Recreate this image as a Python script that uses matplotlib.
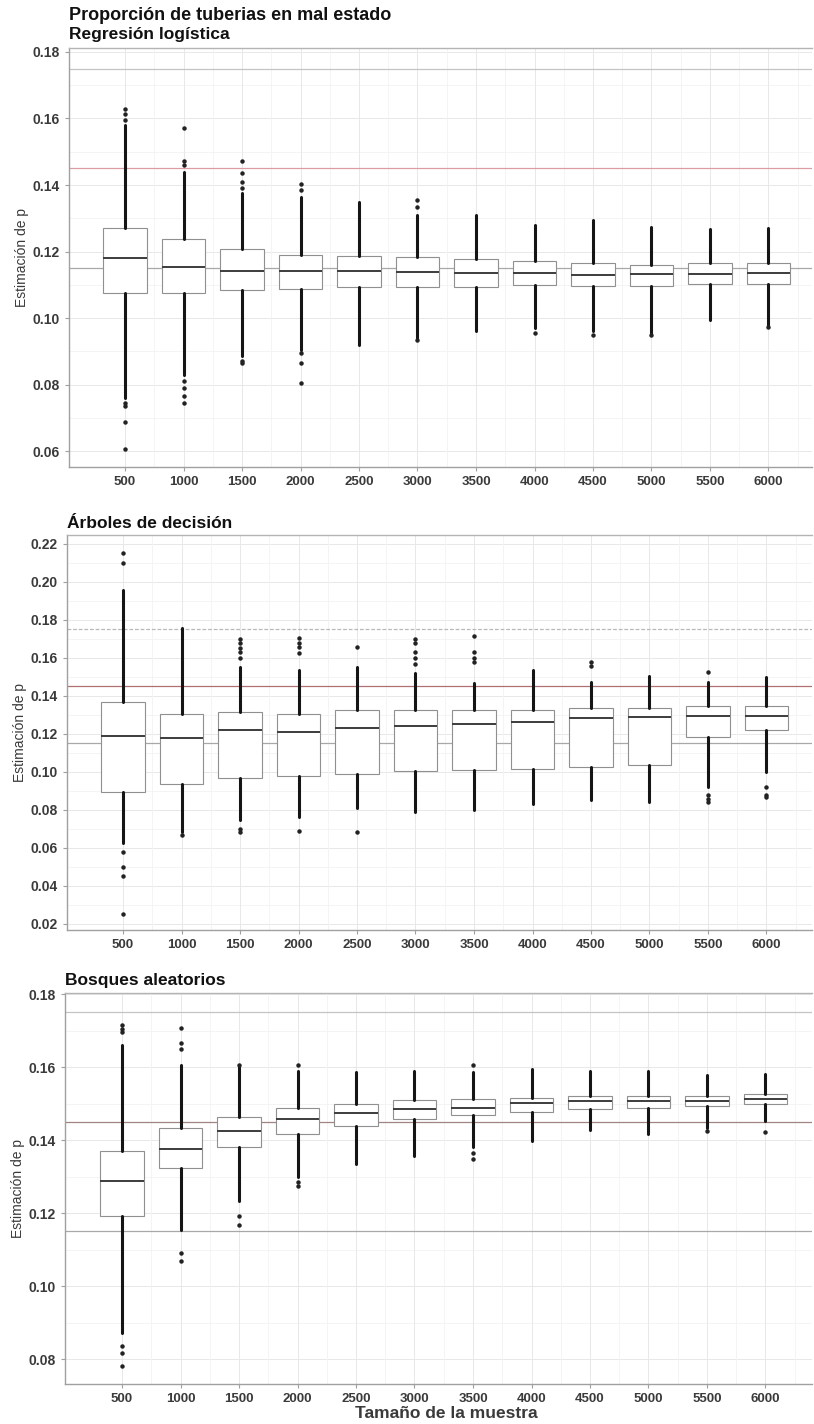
import matplotlib
matplotlib.use("Agg")
import matplotlib.pyplot as plt

plt.rcParams['font.family'] = ['Liberation Sans', 'DejaVu Sans']

sizes = ['500', '1000', '1500', '2000', '2500', '3000', '3500', '4000', '4500', '5000', '5500', '6000']

# ---- Panel 1: Regresión logística ----
rl_q1  = [0.1074, 0.1074, 0.1085, 0.1087, 0.1093, 0.1093, 0.1094, 0.1098, 0.1097, 0.1097, 0.1103, 0.1102]
rl_med = [0.1181, 0.1153, 0.1141, 0.1142, 0.1141, 0.1137, 0.1135, 0.1134, 0.1129, 0.1131, 0.1133, 0.1134]
rl_q3  = [0.1272, 0.1237, 0.1207, 0.1190, 0.1187, 0.1183, 0.1177, 0.1170, 0.1166, 0.1159, 0.1164, 0.1164]
rl_lo  = [0.0760, 0.0830, 0.0885, 0.0905, 0.0919, 0.0940, 0.0960, 0.0970, 0.0960, 0.0955, 0.0995, 0.0975]
rl_hi  = [0.1580, 0.1440, 0.1375, 0.1365, 0.1350, 0.1310, 0.1310, 0.1280, 0.1295, 0.1273, 0.1267, 0.1272]
rl_out = [[0.1629, 0.1615, 0.1595, 0.0745, 0.0735, 0.0688, 0.0606],
          [0.1571, 0.1473, 0.1460, 0.0810, 0.0790, 0.0765, 0.0745],
          [0.1473, 0.1435, 0.1410, 0.1390, 0.0870, 0.0865],
          [0.1402, 0.1385, 0.0895, 0.0865, 0.0806],
          [],
          [0.1355, 0.1335, 0.0935],
          [],
          [0.0955],
          [0.0950],
          [0.0948],
          [],
          [0.0973]]

# ---- Panel 2: Árboles de decisión ----
ad_q1  = [0.0895, 0.0937, 0.0967, 0.0977, 0.0988, 0.1007, 0.1010, 0.1018, 0.1028, 0.1036, 0.1186, 0.1221]
ad_med = [0.1188, 0.1177, 0.1221, 0.1212, 0.1230, 0.1242, 0.1253, 0.1263, 0.1283, 0.1291, 0.1293, 0.1295]
ad_q3  = [0.1370, 0.1304, 0.1314, 0.1305, 0.1325, 0.1326, 0.1326, 0.1326, 0.1339, 0.1335, 0.1347, 0.1347]
ad_lo  = [0.0626, 0.0684, 0.0747, 0.0765, 0.0809, 0.0790, 0.0800, 0.0830, 0.0850, 0.0840, 0.0920, 0.1000]
ad_hi  = [0.1958, 0.1758, 0.1553, 0.1537, 0.1554, 0.1520, 0.1469, 0.1537, 0.1475, 0.1505, 0.1475, 0.1498]
ad_out = [[0.2151, 0.2100, 0.0580, 0.0502, 0.0450, 0.0250],
          [0.0670],
          [0.1700, 0.1680, 0.1650, 0.1630, 0.1600, 0.0700, 0.0685],
          [0.1705, 0.1680, 0.1660, 0.1625, 0.0690],
          [0.1660, 0.0684],
          [0.1700, 0.1680, 0.1630, 0.1600, 0.1570],
          [0.1717, 0.1630, 0.1600, 0.1580],
          [],
          [0.1580, 0.1560],
          [],
          [0.1528, 0.0880, 0.0860, 0.0840],
          [0.0920, 0.0880, 0.0870]]

# ---- Panel 3: Bosques aleatorios ----
ba_q1  = [0.1191, 0.1324, 0.1380, 0.1418, 0.1439, 0.1457, 0.1469, 0.1477, 0.1485, 0.1487, 0.1493, 0.1498]
ba_med = [0.1289, 0.1375, 0.1424, 0.1457, 0.1474, 0.1485, 0.1489, 0.1501, 0.1506, 0.1507, 0.1507, 0.1512]
ba_q3  = [0.1371, 0.1434, 0.1462, 0.1489, 0.1500, 0.1509, 0.1512, 0.1516, 0.1521, 0.1521, 0.1521, 0.1527]
ba_lo  = [0.0872, 0.1153, 0.1234, 0.1298, 0.1335, 0.1357, 0.1380, 0.1398, 0.1427, 0.1416, 0.1434, 0.1453]
ba_hi  = [0.1660, 0.1607, 0.1600, 0.1589, 0.1586, 0.1589, 0.1586, 0.1594, 0.1589, 0.1588, 0.1578, 0.1580]
ba_out = [[0.1715, 0.1705, 0.1695, 0.0837, 0.0817, 0.0780],
          [0.1706, 0.1667, 0.1650, 0.1090, 0.1068],
          [0.1605, 0.1193, 0.1168],
          [0.1607, 0.1285, 0.1275],
          [],
          [],
          [0.1607, 0.1365, 0.1348],
          [],
          [],
          [],
          [0.1425],
          [0.1421]]

FIG_W, FIG_H = 814, 1424
fig = plt.figure(figsize=(FIG_W / 100, FIG_H / 100), dpi=100)
fig.patch.set_facecolor('white')

panels = [
    dict(q1=rl_q1, med=rl_med, q3=rl_q3, lo=rl_lo, hi=rl_hi, out=rl_out,
         left=69, top=48, bottom=467, x1=125, ylim=(0.0552, 0.1812),
         ticks=[0.06, 0.08, 0.10, 0.12, 0.14, 0.16, 0.18],
         title="Regresión logística", title_y=34, red='#dc9ca4', dash175=False),
    dict(q1=ad_q1, med=ad_med, q3=ad_q3, lo=ad_lo, hi=ad_hi, out=ad_out,
         left=67, top=535, bottom=930, x1=123, ylim=(0.0168, 0.2247),
         ticks=[0.02, 0.04, 0.06, 0.08, 0.10, 0.12, 0.14, 0.16, 0.18, 0.20, 0.22],
         title="Árboles de decisión", title_y=523, red='#b07070', dash175=True),
    dict(q1=ba_q1, med=ba_med, q3=ba_q3, lo=ba_lo, hi=ba_hi, out=ba_out,
         left=65, top=993, bottom=1384, x1=122, ylim=(0.0732, 0.1803),
         ticks=[0.08, 0.10, 0.12, 0.14, 0.16, 0.18],
         title="Bosques aleatorios", title_y=980, red='#a08484', dash175=False),
]

RIGHT = 812
SPACING = 58.5
axis_grey = '#a0a0a0'
text_col = '#3a3a3a'

for k, p in enumerate(panels):
    l = p['left'] / FIG_W
    w = (RIGHT - p['left']) / FIG_W
    b = 1 - p['bottom'] / FIG_H
    h = (p['bottom'] - p['top']) / FIG_H
    ax = fig.add_axes([l, b, w, h])
    ax.set_facecolor('white')

    n = len(sizes)
    pos = list(range(1, n + 1))
    stats = []
    for i in range(n):
        stats.append(dict(med=p['med'][i], q1=p['q1'][i], q3=p['q3'][i],
                          whislo=p['lo'][i], whishi=p['hi'][i],
                          fliers=p['out'][i], label=sizes[i]))

    # grid
    ymin, ymax = p['ylim']
    ticks = p['ticks']
    minor = [t + 0.01 for t in ticks] + [ticks[0] - 0.01]
    for t in minor:
        if ymin < t < ymax:
            ax.axhline(t, color='#f3f3f3', lw=0.6, zorder=0)
    for t in ticks:
        ax.axhline(t, color='#e8e8e8', lw=0.7, zorder=0)
    for xp in pos:
        ax.axvline(xp, color='#e8e8e8', lw=0.7, zorder=0)
        ax.axvline(xp + 0.5, color='#f3f3f3', lw=0.6, zorder=0)

    # reference lines
    if p['dash175']:
        ax.axhline(0.175, color='#b8b8b8', lw=0.9, ls=(0, (3, 1.5)), zorder=1)
    else:
        ax.axhline(0.175, color='#c4c4c4', lw=0.9, zorder=1)
    ax.axhline(0.145, color=p['red'], lw=0.9, zorder=1)
    ax.axhline(0.115, color='#a8a8a8', lw=0.9, zorder=1)

    ax.bxp(stats, positions=pos, widths=0.75, showcaps=False, patch_artist=True,
           boxprops=dict(facecolor='white', edgecolor='#909090', linewidth=0.8),
           medianprops=dict(color='#3c3c3c', linewidth=1.4),
           whiskerprops=dict(color='#151515', linewidth=2.2, solid_capstyle='round'),
           flierprops=dict(marker='o', markersize=2.2, markerfacecolor='#222222',
                           markeredgecolor='#222222', linestyle='none'),
           zorder=3)

    x_left = 1 - (p['x1'] - p['left']) / SPACING
    x_right = 1 + (RIGHT - p['x1']) / SPACING
    ax.set_xlim(x_left, x_right)
    ax.set_ylim(ymin, ymax)
    ax.set_yticks(ticks)
    ax.set_yticklabels([f"{t:.2f}" for t in ticks])
    ax.set_xticks(pos)
    ax.set_xticklabels(sizes)

    ax.spines['right'].set_visible(False)
    for s in ['left', 'bottom', 'top']:
        ax.spines[s].set_color(axis_grey)
        ax.spines[s].set_linewidth(1.0)
    ax.spines['top'].set_color('#b4b4b4')
    ax.tick_params(axis='both', colors=axis_grey, length=3, width=0.8,
                   labelcolor=text_col)
    ax.tick_params(axis='x', labelsize=9.5)
    ax.tick_params(axis='y', labelsize=10)
    for lab in ax.get_xticklabels() + ax.get_yticklabels():
        lab.set_fontweight('bold')
    ax.set_ylabel("Estimación de p", fontsize=10, color=text_col, labelpad=3)

    fig.text(p['left'] / FIG_W, 1 - p['title_y'] / FIG_H, p['title'],
             fontsize=12.5, fontweight='bold', color='#111111', va='center', ha='left')

fig.text(69 / FIG_W, 1 - 15 / FIG_H, "Proporción de tuberias en mal estado",
         fontsize=13, fontweight='bold', color='#111111', va='center', ha='left')
fig.text(446 / FIG_W, 1 - 1414 / FIG_H, "Tamaño de la muestra",
         fontsize=12.5, fontweight='bold', color=text_col, va='center', ha='center')

fig.savefig("out.png", dpi=100, facecolor='white')
